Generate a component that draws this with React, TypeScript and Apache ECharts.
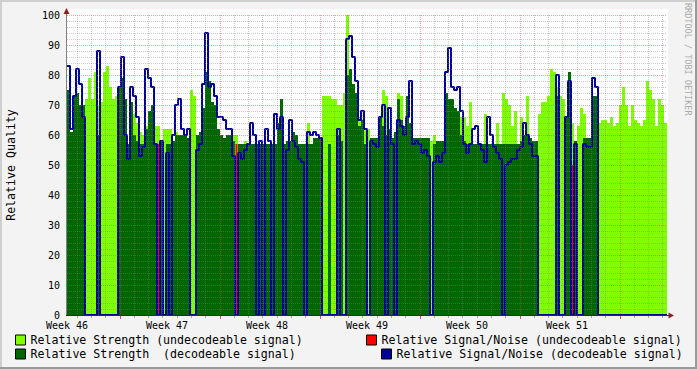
import React, { useEffect, useRef } from 'react';
import * as echarts from 'echarts';

const weekLabels = ['Week 46', 'Week 47', 'Week 48', 'Week 49', 'Week 50', 'Week 51'];

// Relative strength (top of all green), one value per time step
const strength = [
  75, 61, 73, 74, 70, 70, 72, 79, 72, 81,
  70, 71, 81, 83, 76, 72, 73, 76, 79, 72,
  57, 71, 67, 64, 61, 60, 63, 68, 70, 63,
  63, 58, 62, 62, 62, 58, 61, 60, 60, 60,
  59, 75, 73, 60, 61, 69, 81, 78, 71, 70,
  62, 60, 59, 60, 60, 60, 60, 57, 57, 58,
  57, 57, 57, 57, 57, 57, 57, 57, 57, 57,
  64, 72, 57, 58, 58, 61, 60, 57, 57, 57,
  64, 57, 59, 59, 59, 73, 73, 73, 72, 72,
  70, 70, 74, 100, 82, 77, 74, 66, 65, 62,
  62, 59, 59, 59, 66, 75, 73, 62, 59, 61,
  74, 73, 63, 73, 64, 59, 59, 59, 59, 59,
  59, 58, 60, 58, 58, 58, 74, 72, 72, 69,
  68, 66, 66, 63, 71, 57, 57, 57, 57, 67,
  57, 57, 57, 64, 57, 74, 72, 70, 63, 68,
  57, 66, 60, 73, 59, 58, 58, 67, 71, 71,
  73, 82, 81, 76, 73, 72, 66, 81, 64, 58,
  63, 69, 67, 59, 59, 73, 73, 64, 65, 65,
  64, 66, 63, 64, 70, 76, 70, 63, 70, 65,
  64, 63, 65, 78, 75, 72, 63, 72, 70, 64,
];

// Relative strength of decodeable signal (0 = not decodeable)
const decoded = [
  75, 61, 73, 74, 70, 70, 0, 0, 0, 0,
  60, 0, 0, 0, 0, 0, 0, 76, 79, 72,
  57, 71, 60, 58, 57, 57, 62, 68, 70, 57,
  0, 58, 0, 57, 57, 58, 60, 60, 60, 60,
  59, 0, 0, 60, 61, 69, 81, 78, 71, 70,
  62, 60, 59, 60, 60, 58, 0, 57, 57, 57,
  57, 57, 57, 57, 57, 57, 57, 57, 57, 57,
  64, 72, 57, 58, 58, 61, 60, 57, 57, 57,
  57, 57, 59, 59, 59, 0, 0, 57, 0, 0,
  60, 58, 0, 80, 82, 77, 74, 63, 65, 57,
  0, 59, 59, 59, 66, 63, 60, 62, 59, 61,
  72, 65, 63, 73, 64, 59, 59, 59, 59, 59,
  59, 0, 57, 58, 58, 58, 74, 72, 72, 69,
  68, 60, 58, 57, 57, 57, 57, 57, 57, 57,
  57, 57, 57, 57, 57, 57, 57, 57, 57, 57,
  57, 58, 60, 60, 59, 58, 58, 0, 0, 0,
  0, 0, 0, 73, 0, 0, 66, 81, 0, 58,
  0, 0, 59, 59, 59, 73, 73, 0, 0, 0,
  0, 0, 0, 0, 0, 0, 0, 0, 0, 0,
  0, 0, 0, 0, 0, 0, 0, 0, 0, 0,
];

// Relative signal/noise of decodeable signal
const snrDecoded = [
  83, 62, 73, 82, 77, 66, 0, 0, 0, 0,
  88, 0, 0, 0, 0, 0, 0, 76, 86, 60,
  52, 76, 73, 66, 53, 56, 82, 79, 76, 57,
  0, 58, 0, 54, 0, 60, 70, 72, 62, 60,
  62, 0, 0, 55, 57, 77, 94, 76, 77, 73,
  66, 66, 65, 62, 62, 53, 0, 54, 52, 55,
  57, 64, 60, 0, 58, 0, 62, 58, 0, 67,
  62, 66, 0, 55, 65, 58, 56, 52, 51, 0,
  61, 60, 61, 60, 59, 0, 0, 0, 0, 0,
  62, 0, 0, 92, 93, 86, 78, 65, 68, 62,
  0, 58, 57, 56, 66, 70, 0, 69, 57, 0,
  65, 63, 60, 66, 78, 57, 58, 57, 54, 55,
  53, 0, 51, 53, 51, 54, 81, 89, 76, 75,
  76, 68, 57, 54, 57, 62, 63, 57, 55, 51,
  66, 60, 56, 54, 52, 0, 50, 51, 52, 52,
  55, 56, 64, 60, 57, 53, 53, 0, 0, 0,
  0, 0, 0, 80, 0, 0, 66, 78, 0, 57,
  0, 0, 57, 56, 56, 79, 76, 0, 0, 0,
  0, 0, 0, 0, 0, 0, 0, 0, 0, 0,
  0, 0, 0, 0, 0, 0, 0, 0, 0, 0,
];

// Relative signal/noise of undecodeable signal (sparse: step index, value)
const snrUndecodedStep = [30, 56, 168];
const snrUndecodedValue = [57, 57, 50];

const NAME_LS = 'Relative Strength (undecodeable signal)';
const NAME_RN = 'Relative Signal/Noise (undecodeable signal)';
const NAME_DS = 'Relative Strength  (decodeable signal)';
const NAME_BN = 'Relative Signal/Noise (decodeable signal)';

const HOURS_PER_WEEK = 168;
const TOTAL_HOURS = HOURS_PER_WEEK * weekLabels.length;
const STEP_HOURS = TOTAL_HOURS / strength.length;
const DAY_OFFSET_HOURS = 16.3;

const MONO = '"DejaVu Sans Mono", monospace';

function stepData(values: number[]) {
  const d = values.map((v, i) => [i * STEP_HOURS, v]);
  d.push([values.length * STEP_HOURS, values[values.length - 1]]);
  return d;
}

function buildGridData() {
  const out: number[][] = [];
  for (let v = 2; v < 100; v += 2) if (v % 10 !== 0) out.push([2, v]);
  for (let v = 10; v <= 100; v += 10) out.push([3, v]);
  for (let k = 0; ; k++) {
    const pos = DAY_OFFSET_HOURS + 24 * k;
    if (pos >= TOTAL_HOURS) break;
    const major = k % 7 === 3;
    out.push([major ? 1 : 0, pos]);
    out.push([major ? 4 : 5, pos]);
  }
  return out;
}

export default function App() {
  const ref = useRef<HTMLDivElement>(null);
  useEffect(() => {
    document.body.style.margin = '0';
    if (!ref.current) return;
    const chart = echarts.init(ref.current, undefined, { renderer: 'svg' });
    const minorC = 'rgba(128,128,128,0.42)';
    const majorC = 'rgba(225,70,70,0.5)';
    const legendBase = {
      orient: 'horizontal',
      padding: 0,
      itemWidth: 10,
      itemHeight: 10,
      icon: 'rect',
      selectedMode: false,
      itemStyle: { borderColor: '#000', borderWidth: 1 },
      textStyle: { fontFamily: MONO, fontSize: 11.6, color: '#000' },
    };
    chart.setOption({
      animation: false,
      backgroundColor: '#F3F3F3',
      grid: { left: 67, top: 15, width: 600, height: 300, show: false },
      xAxis: {
        type: 'value',
        min: 0,
        max: TOTAL_HOURS,
        interval: HOURS_PER_WEEK,
        axisLine: { show: false },
        axisTick: { show: false },
        splitLine: { show: false },
        axisLabel: {
          margin: 5,
          fontFamily: MONO,
          fontSize: 10,
          color: '#000',
          showMaxLabel: false,
          formatter: (v: number) => weekLabels[Math.round(v / HOURS_PER_WEEK)] ?? '',
        },
      },
      yAxis: {
        type: 'value',
        min: 0,
        max: 100,
        interval: 10,
        axisLine: { show: false },
        axisTick: { show: false },
        splitLine: { show: false },
        axisLabel: { margin: 7, fontFamily: MONO, fontSize: 10, color: '#000' },
      },
      legend: [
        { ...legendBase, left: 15, top: 334, data: [NAME_LS] },
        { ...legendBase, left: 366, top: 334, data: [NAME_RN] },
        { ...legendBase, left: 15, top: 348, data: [NAME_DS] },
        { ...legendBase, left: 381, top: 348, data: [NAME_BN] },
      ],
      series: [
        {
          name: NAME_LS,
          type: 'line',
          step: 'end',
          data: stepData(strength),
          showSymbol: false,
          silent: true,
          color: '#80FF00',
          lineStyle: { width: 0, color: '#80FF00' },
          areaStyle: { color: '#80FF00', opacity: 1 },
          z: 2,
        },
        {
          name: NAME_DS,
          type: 'line',
          step: 'end',
          data: stepData(decoded),
          showSymbol: false,
          silent: true,
          color: '#006600',
          lineStyle: { width: 0, color: '#006600' },
          areaStyle: { color: '#006600', opacity: 1 },
          z: 3,
        },
        {
          name: NAME_RN,
          type: 'bar',
          barWidth: 2,
          silent: true,
          color: '#FF0000',
          itemStyle: { color: '#FF0000' },
          data: snrUndecodedStep.map((s, k) => [(s + 0.5) * STEP_HOURS, snrUndecodedValue[k]]),
          z: 4,
        },
        {
          name: NAME_BN,
          type: 'line',
          step: 'end',
          data: stepData(snrDecoded),
          showSymbol: false,
          silent: true,
          color: '#000099',
          lineStyle: { width: 2, color: '#000099' },
          z: 5,
        },
        {
          name: 'grid',
          type: 'custom',
          silent: true,
          clip: false,
          z: 6,
          data: buildGridData(),
          renderItem: (params: any, api: any) => {
            const kind = api.value(0);
            const pos = api.value(1);
            if (kind === 2 || kind === 3) {
              const p = api.coord([0, pos]);
              const xr = api.coord([TOTAL_HOURS, pos])[0];
              const y = Math.round(p[1]) + 0.5;
              return {
                type: 'line',
                shape: { x1: p[0], y1: y, x2: xr, y2: y },
                style: { stroke: kind === 3 ? majorC : minorC, lineWidth: 1, lineDash: [1, 1] },
              };
            }
            const b = api.coord([pos, 0]);
            const t = api.coord([pos, 100]);
            const x = Math.round(b[0]) + 0.5;
            if (kind === 0 || kind === 1) {
              return {
                type: 'line',
                shape: { x1: x, y1: t[1], x2: x, y2: b[1] },
                style: { stroke: kind === 1 ? majorC : minorC, lineWidth: 1, lineDash: [1, 1] },
              };
            }
            return {
              type: 'line',
              shape: { x1: x, y1: b[1] + 1, x2: x, y2: b[1] + (kind === 4 ? 4 : 3) },
              style: { stroke: kind === 4 ? '#E05050' : '#A8A8A8', lineWidth: 1 },
            };
          },
        },
      ],
      graphic: [
        { type: 'rect', z: -1, shape: { x: 67, y: 9, width: 601, height: 306 }, style: { fill: '#FFFFFF' } },
        { type: 'line', z: 50, shape: { x1: 66.5, y1: 10, x2: 66.5, y2: 315.5 }, style: { stroke: '#808080', lineWidth: 1 } },
        { type: 'line', z: 50, shape: { x1: 66, y1: 315.5, x2: 670, y2: 315.5 }, style: { stroke: '#2A2A40', lineWidth: 1 } },
        { type: 'polygon', z: 51, shape: { points: [[63.5, 14], [69.5, 14], [66.5, 8]] }, style: { fill: '#8F1E1E' } },
        { type: 'polygon', z: 51, shape: { points: [[668.5, 312.5], [668.5, 318.5], [674, 315.5]] }, style: { fill: '#8F1E1E' } },
        {
          type: 'text', z: 50, x: 11, y: 165, rotation: Math.PI / 2,
          style: { text: 'Relative Quality', align: 'center', verticalAlign: 'middle', font: `11.6px ${MONO}`, fill: '#000' },
        },
        {
          type: 'text', z: 50, x: 688, y: 3, rotation: -Math.PI / 2,
          style: { text: 'RRDTOOL / TOBI OETIKER', align: 'left', verticalAlign: 'middle', font: `8.5px ${MONO}`, fill: '#AAAAAA' },
        },
        { type: 'rect', z: 60, shape: { x: 0, y: 0, width: 697, height: 2 }, style: { fill: '#CFCFCF' } },
        { type: 'rect', z: 60, shape: { x: 0, y: 0, width: 2, height: 369 }, style: { fill: '#CFCFCF' } },
        { type: 'rect', z: 61, shape: { x: 695, y: 0, width: 2, height: 369 }, style: { fill: '#9A9A9A' } },
        { type: 'rect', z: 61, shape: { x: 0, y: 367, width: 697, height: 2 }, style: { fill: '#9A9A9A' } },
      ],
    });
    return () => chart.dispose();
  }, []);
  return <div ref={ref} style={{ width: 697, height: 369 }} />;
}
